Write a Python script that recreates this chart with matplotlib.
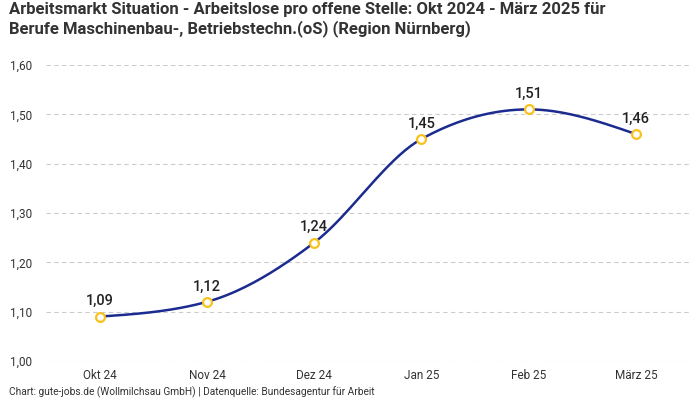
import numpy as np
import matplotlib
matplotlib.use('Agg')
import matplotlib.pyplot as plt

plt.rcParams['font.family'] = ['Roboto', 'DejaVu Sans']

# data
months = ['Okt 24', 'Nov 24', 'Dez 24', 'Jan 25', 'Feb 25', 'März 25']
values = [1.09, 1.12, 1.24, 1.45, 1.51, 1.46]
y_ticks = [1.00, 1.10, 1.20, 1.30, 1.40, 1.50, 1.60]

title = ('Arbeitsmarkt Situation - Arbeitslose pro offene Stelle: Okt 2024 - März 2025 für\n'
         'Berufe Maschinenbau-, Betriebstechn.(oS) (Region Nürnberg)')
footer = 'Chart: gute-jobs.de (Wollmilchsau GmbH) | Datenquelle: Bundesagentur für Arbeit'


def monotone_curve(x, y, n=40):
    # monotone cubic hermite (like d3 curveMonotoneX)
    x = np.asarray(x, float)
    y = np.asarray(y, float)
    h = np.diff(x)
    s = np.diff(y) / h
    m = np.zeros_like(y)
    for i in range(1, len(y) - 1):
        if s[i - 1] * s[i] <= 0:
            m[i] = 0
        else:
            p = (s[i - 1] * h[i] + s[i] * h[i - 1]) / (h[i - 1] + h[i])
            m[i] = (np.sign(s[i - 1]) + np.sign(s[i])) * min(abs(s[i - 1]), abs(s[i]), 0.5 * abs(p))
    m[0] = (3 * s[0] - m[1]) / 2
    m[-1] = (3 * s[-1] - m[-2]) / 2
    xs, ys = [], []
    for i in range(len(h)):
        t = np.linspace(0, 1, n)
        h00 = 2 * t**3 - 3 * t**2 + 1
        h10 = t**3 - 2 * t**2 + t
        h01 = -2 * t**3 + 3 * t**2
        h11 = t**3 - t**2
        xs.append(x[i] + t * h[i])
        ys.append(h00 * y[i] + h10 * h[i] * m[i] + h01 * y[i + 1] + h11 * h[i] * m[i + 1])
    return np.concatenate(xs), np.concatenate(ys)


fig = plt.figure(figsize=(7, 4), dpi=100)
ax = fig.add_axes([0.066, 0.0975, 0.919, 0.74])

x = np.arange(len(months))
cx, cy = monotone_curve(x, values)
ax.plot(cx, cy, color='#1c2b8f', linewidth=1.8, zorder=3)
ax.scatter(x, values, s=40, facecolor='white', edgecolor='#f8c21c', linewidth=1.6, zorder=4)

for xi, v in zip(x, values):
    ax.annotate(f'{v:.2f}'.replace('.', ','), (xi, v), xytext=(0, 6), textcoords='offset points',
                ha='center', va='bottom', fontsize=10.5, fontweight='medium', color='#222222')

ax.set_xlim(-0.5, len(months) - 0.5)
ax.set_ylim(1.0, 1.6)
ax.set_xticks(x)
ax.set_xticklabels(months)
ax.set_yticks(y_ticks)
ax.set_yticklabels([f'{t:.2f}'.replace('.', ',') for t in y_ticks])
ax.tick_params(length=0, labelsize=8.5, colors='#333333')
ax.tick_params(axis='x', pad=6)
ax.tick_params(axis='y', pad=10)

ax.grid(axis='y', linestyle=(0, (4, 3)), color='#cccccc', linewidth=0.8)
ax.set_axisbelow(True)
for sp in ax.spines.values():
    sp.set_visible(False)

fig.text(0.013, 0.995, title, ha='left', va='top', fontsize=12, fontweight='bold',
         color='#333333', linespacing=1.2)
fig.text(0.013, 0.005, footer, ha='left', va='bottom', fontsize=7.3, color='#333333')

fig.savefig('out.png', dpi=100)
